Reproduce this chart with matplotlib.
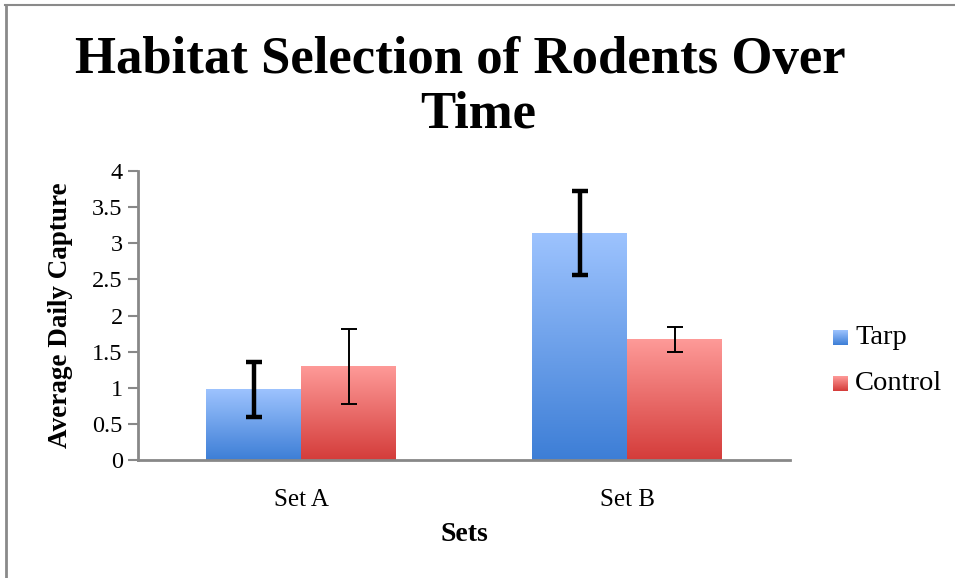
import numpy as np
import matplotlib
matplotlib.use("Agg")
import matplotlib.pyplot as plt
from matplotlib.colors import LinearSegmentedColormap
from matplotlib.lines import Line2D

categories = ["Set A", "Set B"]
series_names = ["Tarp", "Control"]
tarp_values = [0.98, 3.14]
control_values = [1.30, 1.67]
tarp_errors = [0.38, 0.585]
control_errors = [0.52, 0.175]
y_ticks = [0, 0.5, 1, 1.5, 2, 2.5, 3, 3.5, 4]
y_tick_labels = ["0", "0.5", "1", "1.5", "2", "2.5", "3", "3.5", "4"]

tarp_top, tarp_bottom = "#9dc3fe", "#3d7ed6"
ctrl_top, ctrl_bottom = "#fe9a98", "#d43c3a"

serif = ["Liberation Serif", "DejaVu Serif"]
plt.rcParams["font.family"] = serif

fig = plt.figure(figsize=(9.55, 5.78), dpi=100)
ax = fig.add_axes([138/955, 118/578, 652/955, 289/578])

x = np.arange(len(categories)) + 0.5
w = 95/326

def grad_bars(xpos, vals, top, bottom):
    cmap = LinearSegmentedColormap.from_list("g", [bottom, top])
    grad = np.linspace(0, 1, 256).reshape(-1, 1)
    bars = ax.bar(xpos, vals, width=w, color="none", edgecolor="none", zorder=2)
    for b in bars:
        bx, by = b.get_x(), b.get_y()
        bw, bh = b.get_width(), b.get_height()
        im = ax.imshow(grad, extent=[bx, bx + bw, by, by + bh], origin="lower",
                       aspect="auto", cmap=cmap, zorder=2, interpolation="bicubic")
        im.set_clip_path(b)
    return bars

grad_bars(x - w/2, tarp_values, tarp_top, tarp_bottom)
grad_bars(x + w/2, control_values, ctrl_top, ctrl_bottom)

ax.errorbar(x - w/2, tarp_values, yerr=tarp_errors, fmt="none", ecolor="black",
            elinewidth=3.2, capsize=6, capthick=3.2, zorder=4)
ax.errorbar(x + w/2, control_values, yerr=control_errors, fmt="none", ecolor="black",
            elinewidth=1.4, capsize=6, capthick=1.4, zorder=4)

ax.set_xlim(0, 2)
ax.set_ylim(0, 4)
ax.set_yticks(y_ticks)
ax.set_yticklabels(y_tick_labels, fontsize=17.5)
ax.set_xticks(x)
ax.set_xticklabels(categories, fontsize=18)
ax.tick_params(axis="x", length=0, pad=21)
ax.tick_params(axis="y", length=7, width=1.5, color="#888888", pad=4, direction="out")
for s in ["top", "right"]:
    ax.spines[s].set_visible(False)
for s in ["left", "bottom"]:
    ax.spines[s].set_color("#888888")
    ax.spines[s].set_linewidth(2)

ax.set_ylabel("Average Daily Capture", fontsize=19.5, fontweight="bold", labelpad=14)
ax.set_xlabel("Sets", fontsize=20, fontweight="bold", labelpad=8)

fig.text(460/955, 1 - 60/578, "Habitat Selection of Rodents Over", ha="center", va="center",
         fontsize=38, fontweight="bold")
fig.text(478/955, 1 - 114/578, "Time", ha="center", va="center",
         fontsize=38, fontweight="bold")

# legend
def legend_swatch(xp, yp, top, bottom, label):
    cmap = LinearSegmentedColormap.from_list("g", [bottom, top])
    grad = np.linspace(0, 1, 64).reshape(-1, 1)
    lax = fig.add_axes([xp/955, 1 - (yp + 7)/578, 15/955, 15/578])
    lax.imshow(grad, origin="lower", aspect="auto", cmap=cmap, extent=[0, 1, 0, 1])
    lax.axis("off")
    fig.text((xp + 22)/955, 1 - yp/578, label, ha="left", va="center", fontsize=20.5)

legend_swatch(833, 338, tarp_top, tarp_bottom, "Tarp")
legend_swatch(833, 384, ctrl_top, ctrl_bottom, "Control")

# outer frame lines (top and left)
fig.add_artist(Line2D([5/955, 1], [1 - 5/578, 1 - 5/578], color="#8a8a8a", lw=1.5))
fig.add_artist(Line2D([5.5/955, 5.5/955], [0, 1 - 5/578], color="#8a8a8a", lw=2))

fig.savefig("out.png", dpi=100)
